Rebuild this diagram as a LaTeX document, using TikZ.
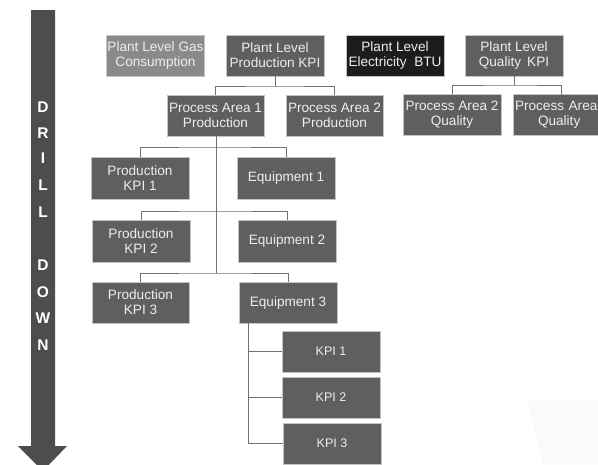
\documentclass[tikz,border=0pt]{standalone}
\usepackage{fontspec}
\setmainfont{Liberation Sans}
\begin{document}
\begin{tikzpicture}[x=1pt,y=-1pt,
  box/.style={draw=boxedge,line width=0.8pt,fill=boxfill,text=boxtext,align=center,
    minimum width=98pt,minimum height=41pt,inner sep=1pt,
    font=\fontsize{13.6}{15}\selectfont},
  kpibox/.style={box,font=\fontsize{12.5}{14}\selectfont},
  conn/.style={draw=linegray,line width=1pt},
  letter/.style={text=white,font=\bfseries\fontsize{15.5}{17}\selectfont,inner sep=0pt}]
\definecolor{boxfill}{HTML}{5F5F5F}
\definecolor{boxedge}{HTML}{C4C4C4}
\definecolor{boxtext}{HTML}{EEEEEE}
\definecolor{gasfill}{HTML}{8A8A8A}
\definecolor{elecfill}{HTML}{1C1C1C}
\definecolor{linegray}{HTML}{707070}
\definecolor{arrowgray}{HTML}{4D4D4D}
\definecolor{faint}{HTML}{FAFAFA}
\useasboundingbox (0,0) rectangle (598,464);
\clip (0,0) rectangle (598,464);
\fill[white] (0,0) rectangle (598,464);
\fill[faint] (526,399) -- (598,399) -- (598,464) -- (543,464) -- cycle;

% drill-down arrow
\fill[arrowgray] (31,10) -- (55,10) -- (55,446) -- (67,446) -- (43,471) -- (18,446) -- (31,446) -- cycle;
\foreach \l/\y [count=\i] in {D/107,R/133,I/158,L/185,L/212,D/265,O/292,W/318,N/345}
  \node[letter] (let\i) at (43,\y) {\l};

% row 1
\node[box,fill=gasfill,minimum width=97pt] (gas) at (155.5,55.5) {Plant Level Gas\\Consumption};
\node[box] (pkpi) at (275,55.5) {Plant Level\\Production KPI};
\node[box,fill=elecfill] (elec) at (395,55.5) {Plant Level\\Electricity\ \ BTU};
\node[box] (qkpi) at (514,55.5) {Plant Level\\Quality\ \,KPI};
% row 2
\node[box,minimum width=97pt] (pa1) at (215.5,115.5) {Process Area 1\\Production};
\node[box,minimum width=97pt] (pa2p) at (334.5,115.5) {Process Area 2\\Production};
\node[box] (pa2q) at (452,115) {Process Area 2\\Quality};
\node[box,minimum width=98pt,text width=94pt,align=left] (pa3q) at (562,115) {Process Area\\\hspace*{23pt}Quality};
% rows 3-5
\node[box,minimum height=42pt] (pk1) at (140,178) {Production\\KPI 1};
\node[box,minimum height=42pt] (eq1) at (286,178) {Equipment 1};
\node[box,minimum height=42pt] (pk2) at (141,241) {Production\\KPI 2};
\node[box,minimum height=42pt] (eq2) at (287,241) {Equipment 2};
\node[box,minimum width=97pt] (pk3) at (140.5,302.5) {Production\\KPI 3};
\node[box] (eq3) at (288,302.5) {Equipment 3};
% equipment 3 KPIs
\node[kpibox] (k1) at (331,351.5) {KPI 1};
\node[kpibox] (k2) at (331,397.5) {KPI 2};
\node[kpibox] (k3) at (332,443.5) {KPI 3};

% connectors
\coordinate (b1) at (275,86);
\draw[conn] (pkpi.south) -- (b1);
\draw[conn] (pa1.north) |- (b1) -| (pa2p.north);
\coordinate (b2) at (514,85);
\draw[conn] (qkpi.south) -- (b2);
\draw[conn] (pa2q.north) |- (b2) -| (561,94.5);

\coordinate (t3) at (216,273);
\draw[conn] (pa1.south -| t3) -- (t3);
\coordinate (h1) at (216,147);
\coordinate (h2) at (216,211);
\draw[conn] (pk1.north) |- (h1) -| (eq1.north);
\draw[conn] (pk2.north) |- (h2) -| (eq2.north);
\draw[conn] (pk3.north) |- (t3) -| (eq3.north);

\coordinate (e3) at (248,323);
\draw[conn] (e3) |- (k3.west);
\draw[conn] (k1.west) -- (k1.west -| e3);
\draw[conn] (k2.west) -- (k2.west -| e3);
\end{tikzpicture}
\end{document}
